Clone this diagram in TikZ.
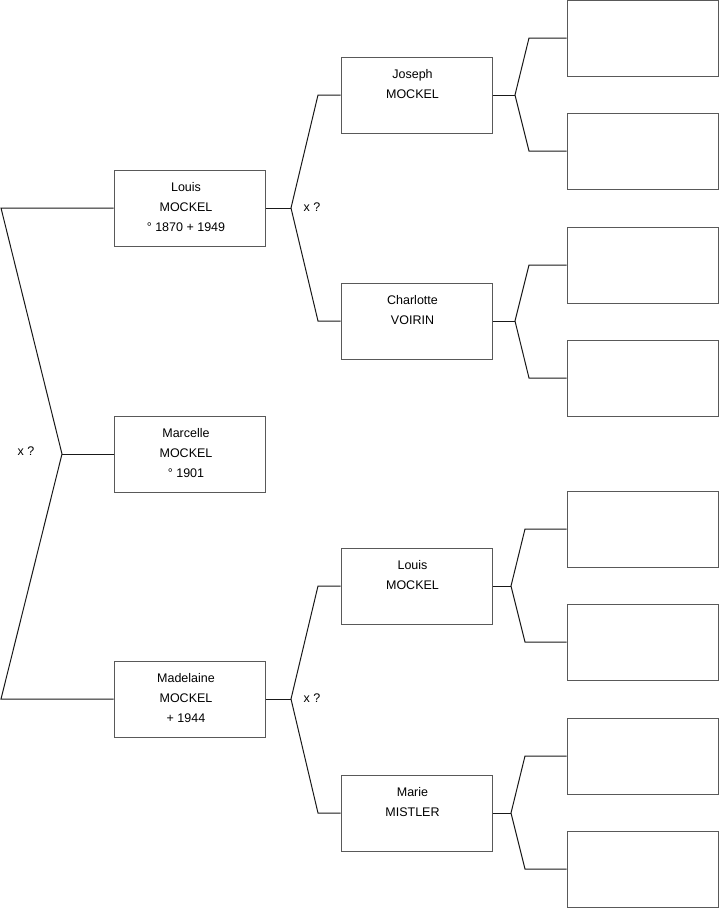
\documentclass[tikz,border=0pt]{standalone}
\usepackage{fontspec}
\setmainfont{Liberation Sans}
\usetikzlibrary{calc}
\begin{document}
\begin{tikzpicture}[x=1pt,y=-1pt,
  pbox/.style={draw=black!65,line width=1pt,minimum width=151pt,minimum height=76pt,inner sep=0pt,fill=white},
  ptxt/.style={anchor=north,align=center,inner sep=0pt,font=\fontsize{12.5}{20}\selectfont},
  lbl/.style={font=\fontsize{12.5}{15}\selectfont,inner sep=0pt},
  conn/.style={draw=black!90,line width=1pt}]
\useasboundingbox (0,0) rectangle (719,908);
% generation 1
\node[pbox] (louis) at (189.5,208) {};
\node[pbox] (marcelle) at (189.5,454) {};
\node[pbox] (madelaine) at (189.5,699) {};
\node[ptxt] at ($(louis.north)+(-3.5,12.5)$) {Louis\\MOCKEL\\° 1870 + 1949};
\node[ptxt] at ($(marcelle.north)+(-3.5,12.5)$) {Marcelle\\MOCKEL\\° 1901};
\node[ptxt] at ($(madelaine.north)+(-3.5,12.5)$) {Madelaine\\MOCKEL\\+ 1944};
% generation 2
\node[pbox] (joseph) at (416.5,95) {};
\node[pbox] (charlotte) at (416.5,321) {};
\node[pbox] (louis2) at (416.5,586) {};
\node[pbox] (marie) at (416.5,813) {};
\node[ptxt] at ($(joseph.north)+(-4,12.5)$) {Joseph\\MOCKEL};
\node[ptxt] at ($(charlotte.north)+(-4,12.5)$) {Charlotte\\VOIRIN};
\node[ptxt] at ($(louis2.north)+(-4,12.5)$) {Louis\\MOCKEL};
\node[ptxt] at ($(marie.north)+(-4,12.5)$) {Marie\\MISTLER};
% generation 3
\node[pbox] (r1) at (642.5,38) {};
\node[pbox] (r2) at (642.5,151) {};
\node[pbox] (r3) at (642.5,265) {};
\node[pbox] (r4) at (642.5,378) {};
\node[pbox] (r5) at (642.5,529) {};
\node[pbox] (r6) at (642.5,642) {};
\node[pbox] (r7) at (642.5,756) {};
\node[pbox] (r8) at (642.5,869) {};
% left bracket
\coordinate (a1) at (1,208);
\coordinate (a2) at (1,699);
\coordinate (am) at (62,454);
\draw[conn] (louis.west) -- (a1) -- (am) -- (a2) -- (madelaine.west);
\draw[conn] (am) -- (marcelle.west);
\node[lbl] (x1) at (26,451) {x ?};
% Louis bracket
\coordinate (b) at (291,208);
\coordinate (b1) at (318,95);
\coordinate (b2) at (318,321);
\draw[conn] (louis.east) -- (b);
\draw[conn] (joseph.west) -- (b1) -- (b) -- (b2) -- (charlotte.west);
\node[lbl] (x2) at (312,207) {x ?};
% Madelaine bracket
\coordinate (d) at (291,699);
\coordinate (d1) at (318,586);
\coordinate (d2) at (318,813);
\draw[conn] (madelaine.east) -- (d);
\draw[conn] (louis2.west) -- (d1) -- (d) -- (d2) -- (marie.west);
\node[lbl] (x3) at (312,698) {x ?};
% right brackets
\coordinate (c) at (515,95);
\coordinate (c1) at (529,38);
\coordinate (c2) at (529,151);
\draw[conn] (joseph.east) -- (c);
\draw[conn] (r1.west) -- (c1) -- (c) -- (c2) -- (r2.west);
\coordinate (e) at (515,321);
\coordinate (e1) at (529,265);
\coordinate (e2) at (529,378);
\draw[conn] (charlotte.east) -- (e);
\draw[conn] (r3.west) -- (e1) -- (e) -- (e2) -- (r4.west);
\coordinate (f) at (511,586);
\coordinate (f1) at (525,529);
\coordinate (f2) at (525,642);
\draw[conn] (louis2.east) -- (f);
\draw[conn] (r5.west) -- (f1) -- (f) -- (f2) -- (r6.west);
\coordinate (g) at (511,813);
\coordinate (g1) at (525,756);
\coordinate (g2) at (525,869);
\draw[conn] (marie.east) -- (g);
\draw[conn] (r7.west) -- (g1) -- (g) -- (g2) -- (r8.west);
\end{tikzpicture}
\end{document}
